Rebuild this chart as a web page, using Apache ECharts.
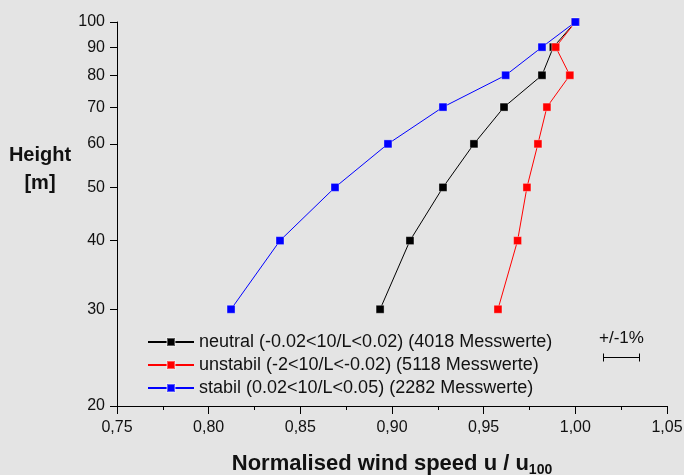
<!DOCTYPE html>
<html>
<head>
<meta charset="utf-8">
<script src="https://cdn.jsdelivr.net/npm/echarts@6/dist/echarts.min.js"></script>
<style>
html,body{margin:0;padding:0;background:#e4e4e4;}
#c{width:684px;height:475px;}
</style>
</head>
<body>
<div id="c"></div>
<script>
const heights = [30, 40, 50, 60, 70, 80, 90, 100];
const neutral  = [0.8935, 0.9098, 0.9278, 0.9447, 0.9611, 0.9818, 0.9880, 1.0000];
const unstabil = [0.9578, 0.9685, 0.9736, 0.9796, 0.9845, 0.9970, 0.9893, 1.0000];
const stabil   = [0.8122, 0.8389, 0.8689, 0.8978, 0.9278, 0.9620, 0.9818, 1.0000];
const seriesNames = [
  'neutral (-0.02<10/L<0.02) (4018 Messwerte)',
  'unstabil (-2<10/L<-0.02) (5118 Messwerte)',
  'stabil (0.02<10/L<0.05) (2282 Messwerte)'
];
const yTicks = [20, 30, 40, 50, 60, 70, 80, 90, 100];
const errorBar = { xFrom: 1.015, xTo: 1.035, h: 24.6, label: '+/-1%' };

const font = 'Arial, "Liberation Sans", sans-serif';
const pair = (xs) => xs.map((x, i) => [x, heights[i]]);

function mk(name, data, color) {
  return {
    name, type: 'line', data: pair(data),
    symbol: 'rect', symbolSize: 8,
    lineStyle: { color, width: 1 },
    itemStyle: { color, borderColor: 'rgba(255,255,255,0.35)', borderWidth: 1 },
    emphasis: { disabled: true },
    animation: false
  };
}

const chart = echarts.init(document.getElementById('c'));
chart.setOption({
  backgroundColor: '#e4e4e4',
  animation: false,
  grid: { left: 117, right: 17, top: 22, bottom: 69, containLabel: false, outerBoundsMode: 'none' },
  legend: {
    orient: 'vertical', left: 142, top: 328,
    itemWidth: 46, itemHeight: 10, itemGap: 5,
    textStyle: { fontFamily: font, fontSize: 18, color: '#111' },
    data: seriesNames
  },
  xAxis: {
    type: 'value', min: 0.75, max: 1.05, interval: 0.05,
    axisLine: { show: true, lineStyle: { color: '#000', width: 1 } },
    axisTick: { show: true, length: 8, inside: false, lineStyle: { color: '#000' } },
    minorTick: { show: true, splitNumber: 2, length: 4, lineStyle: { color: '#000' } },
    splitLine: { show: false },
    axisLabel: {
      margin: 14, fontFamily: font, fontSize: 16, color: '#111',
      formatter: v => v.toFixed(2).replace('.', ',')
    },
    name: '{a|Normalised wind speed u / u}{s|100}',
    nameLocation: 'middle', nameGap: 44,
    nameTextStyle: {
      rich: {
        a: { fontFamily: font, fontSize: 22, fontWeight: 'bold', color: '#111' },
        s: { fontFamily: font, fontSize: 14, fontWeight: 'bold', color: '#111', verticalAlign: 'bottom', padding: [13, 0, 0, 0] }
      }
    }
  },
  yAxis: {
    type: 'log', logBase: 10, min: 20, max: 100,
    axisLine: { show: true, lineStyle: { color: '#000', width: 1 } },
    axisTick: { show: true, length: 7, inside: false, customValues: yTicks, lineStyle: { color: '#000' } },
    minorTick: { show: false },
    splitLine: { show: false },
    axisLabel: { margin: 12, fontFamily: font, fontSize: 16, color: '#111', customValues: yTicks }
  },
  graphic: [
    { type: 'text', x: 40, y: 169,
      style: { text: 'Height\n[m]', font: 'bold 20px ' + font, fill: '#111', align: 'center', verticalAlign: 'middle', lineHeight: 28 } }
  ],
  series: [
    mk(seriesNames[0], neutral, '#000000'),
    mk(seriesNames[1], unstabil, '#ff0000'),
    mk(seriesNames[2], stabil, '#0000ff'),
    {
      type: 'custom', silent: true, animation: false,
      data: [[errorBar.xFrom, errorBar.xTo, errorBar.h]],
      renderItem: function (params, api) {
        const p1 = api.coord([api.value(0), api.value(2)]);
        const p2 = api.coord([api.value(1), api.value(2)]);
        const y = Math.round(p1[1]) + 0.5;
        const x1 = Math.round(p1[0]) + 0.5, x2 = Math.round(p2[0]) + 0.5;
        const st = { stroke: '#000', lineWidth: 1 };
        return { type: 'group', children: [
          { type: 'line', shape: { x1, y1: y, x2, y2: y }, style: st },
          { type: 'line', shape: { x1, y1: y - 4, x2: x1, y2: y + 4 }, style: st },
          { type: 'line', shape: { x1: x2, y1: y - 4, x2, y2: y + 4 }, style: st },
          { type: 'text', x: (x1 + x2) / 2, y: y - 11,
            style: { text: errorBar.label, font: '17px ' + font, fill: '#111', align: 'center', verticalAlign: 'bottom' } }
        ]};
      }
    }
  ]
});
</script>
</body>
</html>
